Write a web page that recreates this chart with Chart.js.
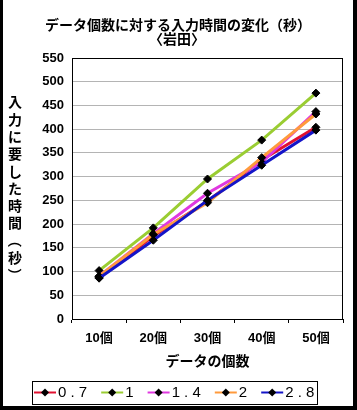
<!DOCTYPE html>
<html><head><meta charset="utf-8">
<script src="https://cdn.jsdelivr.net/npm/chart.js@4/dist/chart.umd.min.js"></script>
<style>html,body{margin:0;padding:0;background:#fff;}canvas{display:block}</style>
</head><body>
<canvas id="c" width="357" height="410"></canvas>
<script>
const categories = ['10個','20個','30個','40個','50個'];
const seriesNames = ['0.7','1','1.4','2','2.8'];
const s07 = [87,175,248,335,404];
const s1  = [102,192,295,377,476];
const s14 = [90,180,265,330,437];
const s2  = [90,178,245,340,432];
const s28 = [86,166,250,324,398];
const yTicks = [0,50,100,150,200,250,300,350,400,450,500,550];
const seriesColors = ['#e01030','#9acd32','#e038e0','#ff9a3c','#1414c8'];
const chartTitle = ['データ個数に対する入力時間の変化（秒）','〈岩田〉'];
const yTitle = '入力に要した時間（秒）';
const xTitle = 'データの個数';

const JP = '"Noto Sans CJK JP", sans-serif';
const NUM = '"Liberation Sans", "Noto Sans CJK JP", sans-serif';

const seriesData = [s07, s1, s14, s2, s28];
const datasets = seriesData.map((d, i) => ({
  label: seriesNames[i],
  data: d,
  borderColor: seriesColors[i],
  backgroundColor: seriesColors[i],
  borderWidth: 3,
  tension: 0,
  pointStyle: 'rectRot',
  pointRadius: 4,
  pointBackgroundColor: '#000',
  pointBorderColor: '#000',
  pointBorderWidth: 1,
  order: seriesData.length - i
}));

const decor = {
  id: 'decor',
  beforeDraw(chart) {
    const ctx = chart.ctx;
    ctx.save();
    ctx.fillStyle = '#fff';
    ctx.fillRect(0, 0, chart.width, chart.height);
    ctx.restore();
  },
  afterDatasetsDraw(chart) {
    const ctx = chart.ctx, a = chart.chartArea;
    ctx.save();
    ctx.strokeStyle = '#000';
    ctx.lineWidth = 1;
    ctx.strokeRect(Math.round(a.left) + 0.5, Math.round(a.top) + 0.5, Math.round(a.right - a.left) - 1, Math.round(a.bottom - a.top));
    ctx.restore();
  },
  afterDraw(chart) {
    const ctx = chart.ctx, a = chart.chartArea;
    ctx.save();
    // chart title
    ctx.fillStyle = '#000';
    ctx.textAlign = 'center';
    ctx.textBaseline = 'middle';
    ctx.font = 'bold 14px ' + JP;
    ctx.fillText(chartTitle[0], 178, 25);
    ctx.fillText(chartTitle[1], 177, 39);
    // vertical y title (upright characters, brackets turned)
    const chars = Array.from(yTitle);
    const step = 17.3;
    const cy = (a.top + a.bottom) / 2;
    chars.forEach((c, i) => {
      const y = cy + (i - (chars.length - 1) / 2) * step;
      if (c === '（' || c === '）') {
        ctx.save();
        ctx.translate(15, y);
        ctx.rotate(Math.PI / 2);
        ctx.fillText(c, 0, 0);
        ctx.restore();
      } else {
        ctx.fillText(c, 15, y);
      }
    });
    // legend
    const box = {l: 32, r: 317, t: 381, b: 404};
    ctx.strokeStyle = '#000';
    ctx.lineWidth = 1;
    ctx.strokeRect(box.l + 0.5, box.t + 0.5, box.r - box.l, box.b - box.t);
    const ly = 392.5;
    const cell = 10.4;
    let x = 34;
    ctx.font = '15px ' + NUM;
    chart.data.datasets.forEach(ds => {
      ctx.strokeStyle = ds.borderColor;
      ctx.lineWidth = 2;
      ctx.beginPath();
      ctx.moveTo(x, ly); ctx.lineTo(x + 22, ly);
      ctx.stroke();
      const cx = x + 11;
      ctx.fillStyle = '#000';
      ctx.beginPath();
      ctx.moveTo(cx, ly - 4); ctx.lineTo(cx + 4, ly); ctx.lineTo(cx, ly + 4); ctx.lineTo(cx - 4, ly);
      ctx.closePath(); ctx.fill();
      let tx = x + 23;
      Array.from(ds.label).forEach(ch => {
        ctx.fillText(ch, tx + cell / 2, ly + 0.5);
        tx += cell;
      });
      x = tx + 13;
    });
    // outer frame
    ctx.fillStyle = '#000';
    ctx.fillRect(0, 0, 3, chart.height);
    ctx.fillRect(chart.width - 4, 0, 4, chart.height);
    ctx.fillRect(0, chart.height - 4, chart.width, 4);
    ctx.restore();
  }
};

new Chart(document.getElementById('c'), {
  type: 'line',
  data: { labels: categories, datasets },
  plugins: [decor],
  options: {
    responsive: false,
    animation: false,
    layout: { padding: { top: 58, right: 14, left: 0, bottom: 0 } },
    plugins: { legend: { display: false }, tooltip: { enabled: false }, title: { display: false } },
    scales: {
      x: {
        type: 'category',
        offset: true,
        afterFit(s) { s.height = 91; },
        grid: { offset: true, drawOnChartArea: false, drawTicks: true, tickLength: 4, tickColor: '#000', color: '#000' },
        border: { display: true, color: '#000', width: 1 },
        ticks: { color: '#000', padding: 8, font: { family: NUM, size: 13, weight: 'bold' }, maxRotation: 0 },
        title: { display: true, text: xTitle, color: '#000', font: { family: JP, size: 14, weight: 'bold' }, padding: { top: 0, bottom: 40.6 } }
      },
      y: {
        min: 0, max: 550,
        afterFit(s) { s.width = 72; },
        afterBuildTicks(s) { s.ticks = yTicks.map(v => ({ value: v })); },
        grid: { color: '#b4b4b4', lineWidth: 1, drawTicks: false },
        border: { display: true, color: '#000', width: 1 },
        ticks: { color: '#000', padding: 8, font: { family: NUM, size: 13, weight: 'bold' } }
      }
    }
  }
});
</script>
</body></html>
